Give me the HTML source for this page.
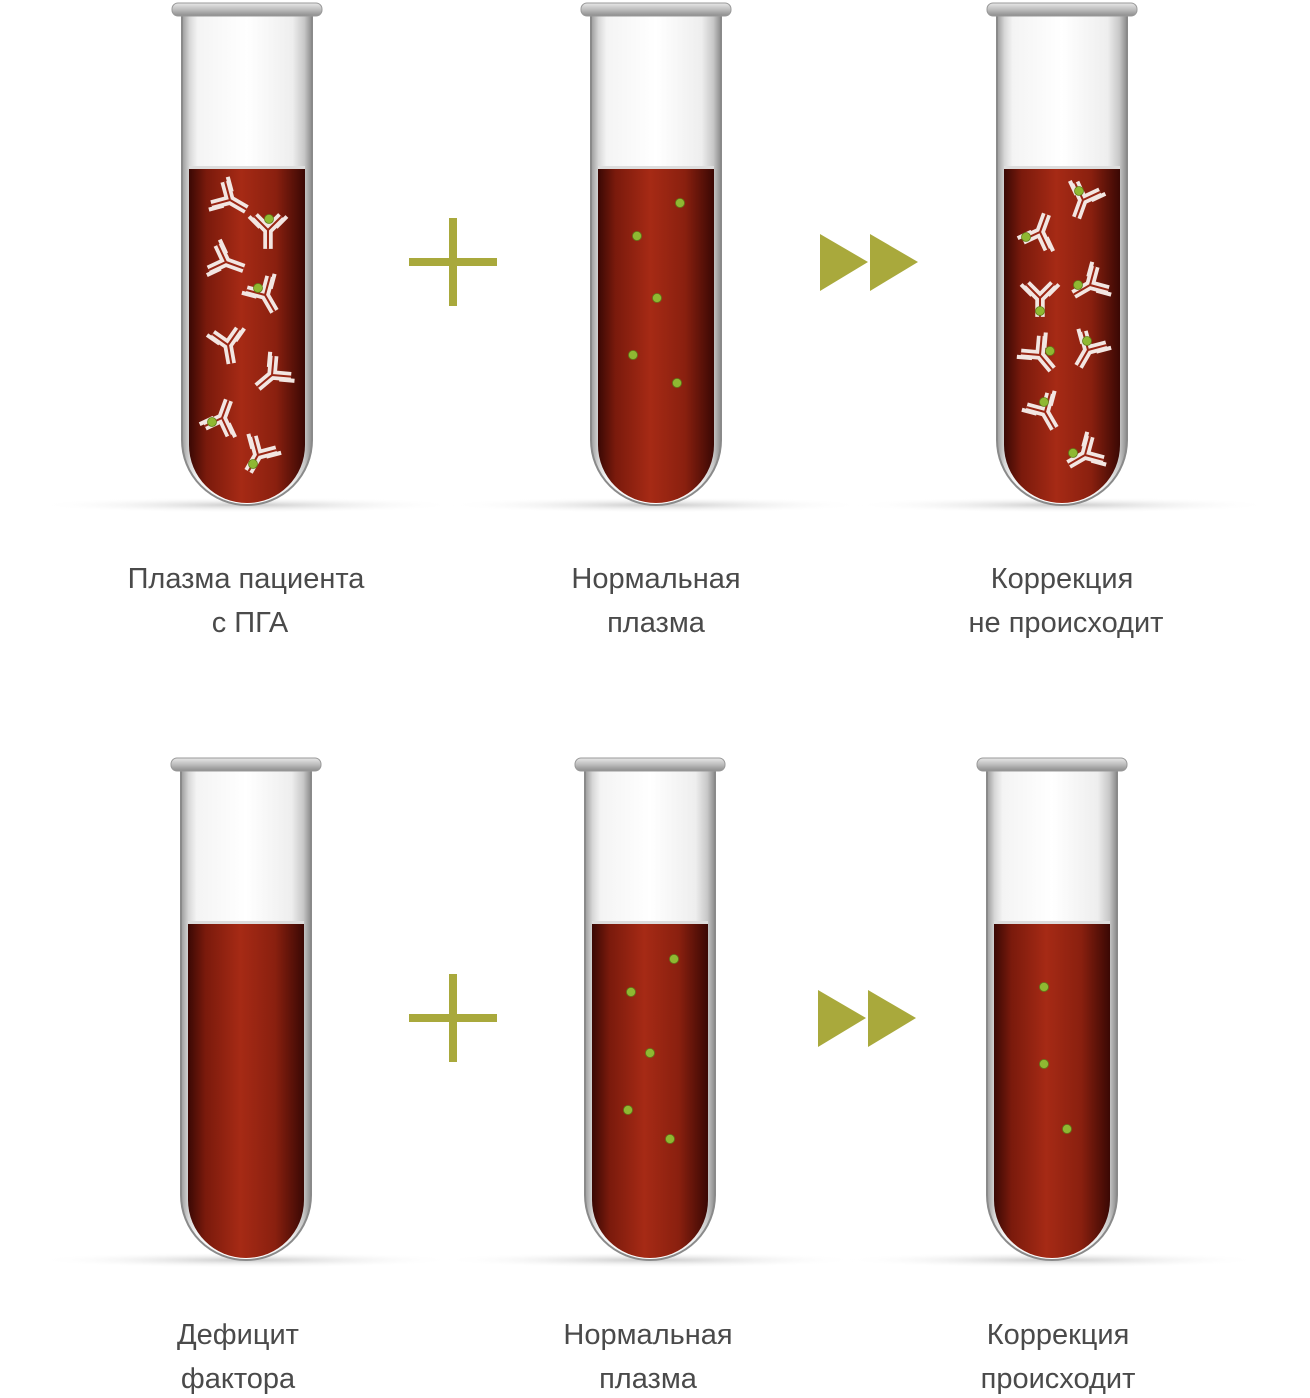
<!DOCTYPE html>
<html><head><meta charset="utf-8"><style>
html,body{margin:0;padding:0;background:#fff;}
svg{display:block;}
text{font-family:"Liberation Sans",sans-serif;font-size:29px;fill:#4a4a4a;text-anchor:middle;}
</style></head><body>
<svg width="1310" height="1398" viewBox="0 0 1310 1398" xmlns="http://www.w3.org/2000/svg">
<defs>
<linearGradient id="liq" x1="0" x2="1" y1="0" y2="0">
<stop offset="0" stop-color="#3a0804"/><stop offset="0.15" stop-color="#7a1a0c"/>
<stop offset="0.45" stop-color="#a62a15"/><stop offset="0.75" stop-color="#8a200f"/>
<stop offset="1" stop-color="#3a0804"/></linearGradient>
<linearGradient id="glass" x1="0" x2="1" y1="0" y2="0">
<stop offset="0" stop-color="#9a9a9a"/><stop offset="0.06" stop-color="#d8d8d8"/>
<stop offset="0.12" stop-color="#f4f4f4"/><stop offset="0.5" stop-color="#ffffff"/>
<stop offset="0.85" stop-color="#eeeeee"/><stop offset="0.94" stop-color="#c8c8c8"/>
<stop offset="1" stop-color="#8a8a8a"/></linearGradient>
<linearGradient id="rim" x1="0" x2="0" y1="0" y2="1">
<stop offset="0" stop-color="#e8e8e8"/><stop offset="0.5" stop-color="#bdbdbd"/><stop offset="1" stop-color="#8c8c8c"/></linearGradient>
<radialGradient id="shd"><stop offset="0" stop-color="#bbb" stop-opacity="0.8"/><stop offset="1" stop-color="#fff" stop-opacity="0"/></radialGradient>
<g id="tube">
<ellipse cx="0" cy="502" rx="210" ry="8" fill="url(#shd)"/>
<path d="M-65 10 V437 A65 65 0 0 0 65 437 V10 Z" fill="url(#glass)" stroke="#8a8a8a" stroke-width="2"/>
<path d="M-58 165 H58 V442 A58 58 0 0 1 -58 442 Z" fill="url(#liq)"/>
<rect x="-58" y="163" width="116" height="3" fill="#ddd"/>
<rect x="-75" y="0" width="150" height="13" rx="6" fill="url(#rim)" stroke="#999" stroke-width="1"/>
</g>
<g id="ab0">
<path d="M0 14 V0 L-10 -10 M0 0 L10 -10" fill="none" stroke="#f2e6e2" stroke-width="7" stroke-linejoin="miter"/>
<path d="M0 14 V0 L-10 -10 M0 0 L10 -10" fill="none" stroke="#9a2614" stroke-width="1.5"/>
<path d="M-6 -2 L-14 -10 M6 -2 L14 -10" fill="none" stroke="#f2e6e2" stroke-width="3"/>
</g>
<g id="ab"><use href="#ab0" transform="scale(1.35)"/></g>
<circle id="dot" r="4.5" fill="#8fb832" stroke="#5f7f1a" stroke-width="0.8"/>
<g id="plus"><rect x="-44" y="-4" width="88" height="8" fill="#a9a93c"/><rect x="-4" y="-44" width="8" height="88" fill="#a9a93c"/></g>
<g id="arr"><path d="M0 0 L48 28 L0 57 Z M50 0 L98 28 L50 57 Z" fill="#a9a93c"/></g>
</defs>

<use href="#tube" x="247" y="3"/>
<use href="#tube" x="656" y="3"/>
<use href="#tube" x="1062" y="3"/>
<use href="#tube" x="246" y="758"/>
<use href="#tube" x="650" y="758"/>
<use href="#tube" x="1052" y="758"/>

<use href="#ab" transform="translate(230,200) rotate(-60)"/>
<use href="#ab" transform="translate(268,230) rotate(0)"/>
<use href="#dot" x="269" y="219"/>
<use href="#ab" transform="translate(226,262) rotate(-70)"/>
<use href="#ab" transform="translate(265,295) rotate(-30)"/>
<use href="#dot" x="258" y="288"/>
<use href="#ab" transform="translate(228,345) rotate(-10)"/>
<use href="#ab" transform="translate(272,375) rotate(50)"/>
<use href="#ab" transform="translate(222,418) rotate(200)"/>
<use href="#dot" x="212" y="422"/>
<use href="#ab" transform="translate(258,455) rotate(30)"/>
<use href="#dot" x="253" y="464"/>

<use href="#ab" transform="translate(1083,200) rotate(20)"/>
<use href="#dot" x="1079" y="191"/>
<use href="#ab" transform="translate(1040,232) rotate(200)"/>
<use href="#dot" x="1026" y="237"/>
<use href="#ab" transform="translate(1090,285) rotate(60)"/>
<use href="#dot" x="1078" y="285"/>
<use href="#ab" transform="translate(1040,298) rotate(0)"/>
<use href="#dot" x="1040" y="311"/>
<use href="#ab" transform="translate(1040,355) rotate(-40)"/>
<use href="#dot" x="1050" y="351"/>
<use href="#ab" transform="translate(1088,350) rotate(30)"/>
<use href="#dot" x="1087" y="341"/>
<use href="#ab" transform="translate(1045,412) rotate(-30)"/>
<use href="#dot" x="1044" y="402"/>
<use href="#ab" transform="translate(1085,455) rotate(60)"/>
<use href="#dot" x="1073" y="453"/>

<use href="#dot" x="680" y="203"/><use href="#dot" x="637" y="236"/><use href="#dot" x="657" y="298"/>
<use href="#dot" x="633" y="355"/><use href="#dot" x="677" y="383"/>
<use href="#dot" x="674" y="959"/><use href="#dot" x="631" y="992"/><use href="#dot" x="650" y="1053"/>
<use href="#dot" x="628" y="1110"/><use href="#dot" x="670" y="1139"/>
<use href="#dot" x="1044" y="987"/><use href="#dot" x="1044" y="1064"/><use href="#dot" x="1067" y="1129"/>

<use href="#plus" x="453" y="262"/>
<use href="#plus" x="453" y="1018"/>
<use href="#arr" x="820" y="234"/>
<use href="#arr" x="818" y="990"/>

<text x="246" y="588">Плазма пациента</text>
<text x="250" y="632">с ПГА</text>
<text x="656" y="588">Нормальная</text>
<text x="656" y="632">плазма</text>
<text x="1062" y="588">Коррекция</text>
<text x="1066" y="632">не происходит</text>
<text x="238" y="1344">Дефицит</text>
<text x="238" y="1388">фактора</text>
<text x="648" y="1344">Нормальная</text>
<text x="648" y="1388">плазма</text>
<text x="1058" y="1344">Коррекция</text>
<text x="1058" y="1388">происходит</text>
</svg>
</body></html>
